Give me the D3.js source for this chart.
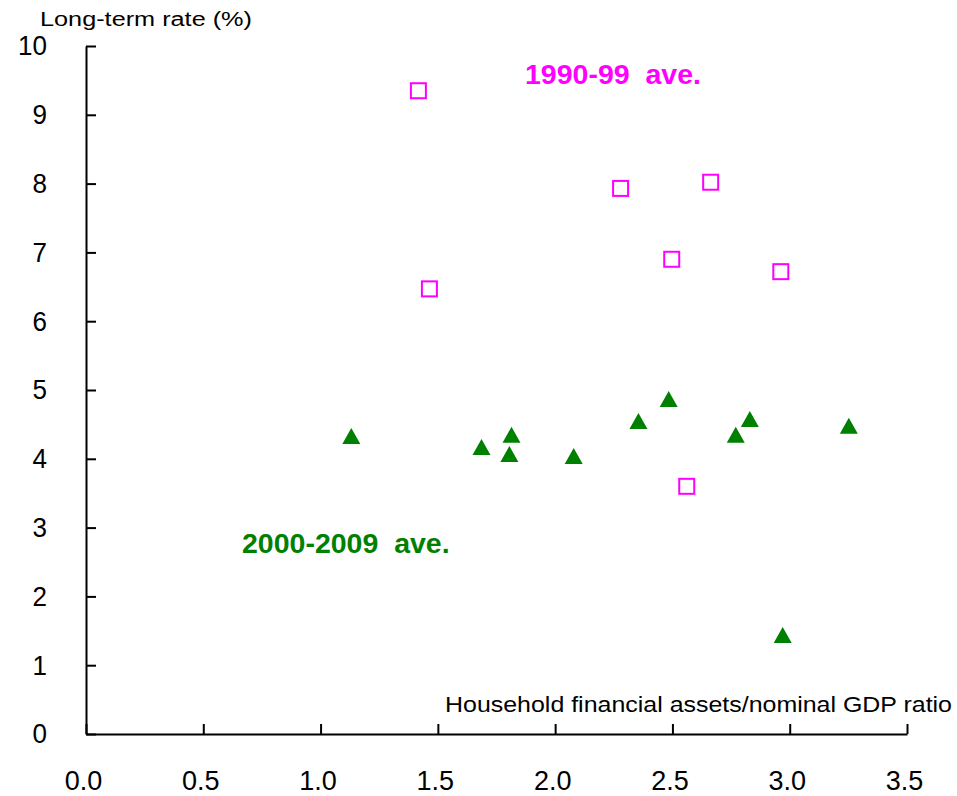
<!DOCTYPE html>
<html>
<head>
<meta charset="utf-8">
<script src="https://cdn.jsdelivr.net/npm/d3@7"></script>
<style>
  html, body { margin: 0; padding: 0; background: #fff; }
  svg { display: block; }
  text { font-family: "Liberation Sans", Arial, sans-serif; }
</style>
</head>
<body>
<svg id="chart" width="957" height="796"></svg>
<script>
// Data: household financial assets / nominal GDP ratio (x) vs long-term rate % (y)
const avg1990sX = [1.417, 1.464, 2.279, 2.663, 2.497, 2.962, 2.561];
const avg1990sY = [9.35, 6.47, 7.93, 8.02, 6.90, 6.72, 3.60];

const avg2000sX = [1.131, 1.686, 1.814, 1.805, 2.079, 2.355, 2.484, 2.770, 2.830, 3.252, 2.970];
const avg2000sY = [4.33, 4.17, 4.35, 4.07, 4.04, 4.55, 4.87, 4.35, 4.58, 4.48, 1.44];

const xTicks = [0, 0.5, 1.0, 1.5, 2.0, 2.5, 3.0, 3.5];
const yTicks = [0, 1, 2, 3, 4, 5, 6, 7, 8, 9, 10];

const seriesLabels = ["1990-99  ave.", "2000-2009  ave."];
const yTitle = "Long-term rate (%)";
const xTitle = "Household financial assets/nominal GDP ratio";

const svg = d3.select("#chart");
const x = d3.scaleLinear().domain([0, 3.5]).range([86, 907]);
const y = d3.scaleLinear().domain([0, 10]).range([734, 46]);

function condense(sel, k) {
  sel.each(function () {
    const w = this.getComputedTextLength();
    d3.select(this).attr("textLength", w * k).attr("lengthAdjust", "spacingAndGlyphs");
  });
}

// Axes
const yAxis = d3.axisLeft(y).tickValues(yTicks).tickFormat(d3.format("d"))
  .tickSizeInner(-10).tickSizeOuter(0).tickPadding(39);
const gy = svg.append("g").attr("transform", `translate(${x(0)},0)`).call(yAxis);
gy.selectAll("text").attr("font-size", 28).attr("font-family", "Liberation Sans, Arial, sans-serif").attr("fill", "#000");
condense(gy.selectAll("text"), 0.93);
gy.selectAll("line, path").attr("stroke", "#000").attr("stroke-width", 2);

const xAxis = d3.axisBottom(x).tickValues(xTicks).tickFormat(d3.format(".1f"))
  .tickSizeInner(-10).tickSizeOuter(0).tickPadding(37);
const gx = svg.append("g").attr("transform", `translate(0,${y(0)})`).call(xAxis);
gx.selectAll("text").attr("font-size", 27).attr("font-family", "Liberation Sans, Arial, sans-serif")
  .attr("fill", "#000").attr("dx", -3);
gx.selectAll("line, path").attr("stroke", "#000").attr("stroke-width", 2);

// Titles
svg.append("text").attr("x", 40).attr("y", 26).attr("font-size", 20)
  .attr("textLength", 212).attr("lengthAdjust", "spacingAndGlyphs")
  .text(yTitle);
svg.append("text").attr("x", 445).attr("y", 712).attr("font-size", 22)
  .attr("textLength", 507).attr("lengthAdjust", "spacingAndGlyphs")
  .text(xTitle);

// Squares (1990-99)
const sq = 15;
const pts1 = avg1990sX.map((v, i) => [v, avg1990sY[i]]);
svg.append("g").selectAll("rect").data(pts1).join("rect")
  .attr("x", d => x(d[0]) - sq / 2).attr("y", d => y(d[1]) - sq / 2)
  .attr("width", sq).attr("height", sq)
  .attr("fill", "none").attr("stroke", "#FF00FF").attr("stroke-width", 2);

// Triangles (2000-2009)
const tw = 18, th = 16;
const pts2 = avg2000sX.map((v, i) => [v, avg2000sY[i]]);
svg.append("g").selectAll("path").data(pts2).join("path")
  .attr("d", d => {
    const cx = x(d[0]), cy = y(d[1]);
    return `M${cx},${cy - th / 2}L${cx + tw / 2},${cy + th / 2}L${cx - tw / 2},${cy + th / 2}Z`;
  })
  .attr("fill", "#008000");

// Series labels
svg.append("text").attr("x", 525).attr("y", 84).attr("font-size", 28.5)
  .attr("font-weight", "bold").attr("fill", "#FF00FF")
  .attr("xml:space", "preserve").style("white-space", "pre").text(seriesLabels[0]);
svg.append("text").attr("x", 242).attr("y", 553).attr("font-size", 28.5)
  .attr("font-weight", "bold").attr("fill", "#008000")
  .attr("xml:space", "preserve").style("white-space", "pre").text(seriesLabels[1]);
</script>
</body>
</html>
